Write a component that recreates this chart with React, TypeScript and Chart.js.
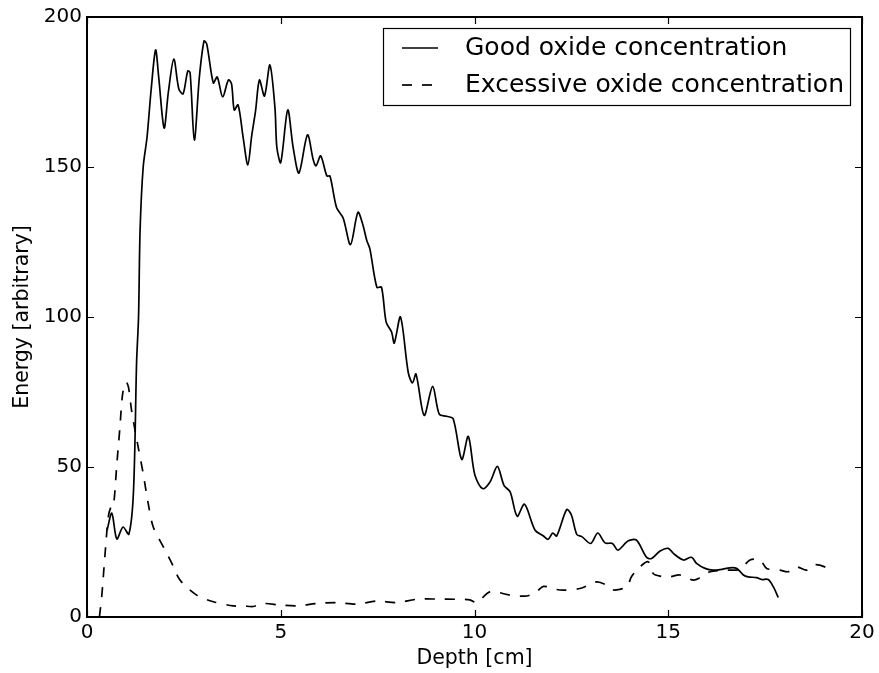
import React, { useEffect, useRef } from "react";
import { Chart, registerables } from "chart.js";

Chart.register(...registerables);

const goodX = [0.52, 0.64, 0.77, 0.93, 1.08, 1.2, 1.28, 1.33, 1.37, 1.45, 1.55, 1.65, 1.77, 1.85, 1.99, 2.1, 2.24, 2.37, 2.48, 2.6, 2.66, 2.77, 2.9, 3.02, 3.09, 3.26, 3.36, 3.5, 3.65, 3.73, 3.8, 3.9, 4.03, 4.15, 4.25, 4.35, 4.45, 4.58, 4.72, 4.85, 4.9, 5.0, 5.18, 5.32, 5.47, 5.69, 5.84, 5.91, 6.03, 6.19, 6.27, 6.44, 6.61, 6.8, 6.99, 7.11, 7.22, 7.3, 7.48, 7.6, 7.72, 7.86, 7.93, 8.09, 8.29, 8.4, 8.49, 8.7, 8.92, 9.09, 9.28, 9.45, 9.67, 9.84, 10.01, 10.21, 10.4, 10.59, 10.76, 10.92, 11.1, 11.29, 11.56, 11.78, 11.9, 12.02, 12.12, 12.38, 12.5, 12.64, 12.77, 13.0, 13.18, 13.37, 13.56, 13.7, 13.97, 14.18, 14.44, 14.57, 14.79, 15.0, 15.13, 15.39, 15.6, 15.73, 15.95, 16.16, 16.38, 16.59, 16.77, 16.94, 17.06, 17.28, 17.41, 17.58, 17.71, 17.84];
const goodY = [29, 34.6, 26, 30, 27.6, 42, 85, 100, 129, 150, 160, 175, 189, 180, 163, 175, 186, 176, 174.4, 182, 181.5, 159, 180, 192, 191, 178, 180, 173.4, 179, 177.7, 169, 170.7, 159.8, 150.7, 160.4, 168.7, 179, 173.7, 184, 169.8, 156.5, 151.5, 169, 156.5, 148, 160.7, 152.3, 150.4, 153.7, 147, 147, 136.5, 133, 124.1, 134.9, 131.2, 125.5, 122.7, 109.9, 109.9, 98.3, 95, 91.3, 100, 81.5, 78, 81, 67.2, 76.9, 67.6, 66.9, 66.1, 52.5, 60.2, 47.3, 42.8, 45, 50.2, 43.9, 41.7, 33.6, 37.6, 29, 27, 25.9, 28, 27, 35.8, 34, 27.5, 26.8, 24.5, 28, 24.7, 24.5, 22.3, 25.4, 25.6, 19.9, 19.5, 22, 22.9, 21.2, 19, 19.9, 17.9, 16.2, 15.6, 15.9, 16.4, 16.2, 14, 13.4, 13.1, 12.5, 12.5, 10.1, 6.5];

const excessX = [0.32, 0.38, 0.46, 0.55, 0.62, 0.68, 0.77, 0.85, 0.92, 1.01, 1.07, 1.15, 1.24, 1.32, 1.45, 1.58, 1.71, 1.97, 2.19, 2.4, 2.83, 3.26, 3.78, 4.03, 4.29, 4.55, 4.98, 5.41, 5.93, 6.44, 6.96, 7.48, 7.99, 8.51, 9.02, 9.54, 9.88, 10.06, 10.4, 10.92, 11.35, 11.6, 11.78, 12.2, 12.72, 13.15, 13.41, 13.58, 13.93, 14.05, 14.27, 14.48, 14.61, 14.79, 15.04, 15.3, 15.65, 15.82, 16.08, 16.51, 16.85, 17.11, 17.37, 17.54, 17.88, 18.1, 18.31, 18.57, 18.74, 18.91, 19.13];
const excessY = [0, 6.8, 20, 33.4, 36.7, 36.7, 51, 63.3, 74.4, 78.3, 76.6, 68.9, 62.2, 56.7, 47.8, 37.8, 30, 23.4, 17.9, 12.3, 7.3, 5.1, 3.7, 3.7, 3.5, 4.5, 4, 3.7, 4.5, 4.8, 4.3, 5.3, 4.8, 5.9, 6, 5.9, 5.7, 4.8, 8.4, 7.3, 7, 8.4, 10.2, 9, 9.5, 11.7, 10.6, 9, 10.1, 13.4, 16.7, 18.4, 14.5, 13.6, 13.4, 14, 12.3, 13.1, 15.1, 15.6, 15.9, 19, 19, 16.2, 15.6, 15.1, 16.7, 15.6, 17.3, 17.3, 16.2];

const seriesNames = ["Good oxide concentration", "Excessive oxide concentration"];
const xTicks = [0, 5, 10, 15, 20];
const yTicks = [0, 50, 100, 150, 200];
const xTitle = "Depth [cm]";
const yTitle = "Energy [arbitrary]";

const FONT = "'DejaVu Sans', sans-serif";
const DASH = [10, 10];

const framePlugin = {
  id: "frameTicks",
  afterDraw(chart: any) {
    const { ctx, chartArea } = chart;
    const { left, right, top, bottom } = chartArea;
    const xs = chart.scales.x;
    const ys = chart.scales.y;
    const tl = 7;
    ctx.save();
    ctx.strokeStyle = "#000";
    ctx.lineWidth = 1.2;
    ctx.beginPath();
    xTicks.forEach((v) => {
      const px = Math.round(xs.getPixelForValue(v)) + 0.5;
      ctx.moveTo(px, bottom);
      ctx.lineTo(px, bottom - tl);
      ctx.moveTo(px, top);
      ctx.lineTo(px, top + tl);
    });
    yTicks.forEach((v) => {
      const py = Math.round(ys.getPixelForValue(v)) + 0.5;
      ctx.moveTo(left, py);
      ctx.lineTo(left + tl, py);
      ctx.moveTo(right, py);
      ctx.lineTo(right - tl, py);
    });
    ctx.stroke();
    ctx.lineWidth = 2;
    ctx.strokeRect(left, top, right - left, bottom - top);

    // legend box
    const bx = 383.5, by = 28.5, bw = 467, bh = 77;
    ctx.fillStyle = "#fff";
    ctx.fillRect(bx, by, bw, bh);
    ctx.lineWidth = 1.2;
    ctx.strokeRect(bx, by, bw, bh);
    const rows = [48, 85];
    ctx.font = `25px ${FONT}`;
    ctx.fillStyle = "#000";
    ctx.textBaseline = "middle";
    ctx.textAlign = "left";
    rows.forEach((ry, i) => {
      ctx.lineWidth = 1.7;
      ctx.setLineDash(i === 1 ? DASH : []);
      ctx.beginPath();
      ctx.moveTo(402, ry);
      ctx.lineTo(438, ry);
      ctx.stroke();
      ctx.setLineDash([]);
      ctx.fillText(seriesNames[i], 465, ry);
    });
    ctx.restore();
  },
};

export default function App() {
  const ref = useRef<HTMLCanvasElement>(null);
  useEffect(() => {
    const chart = new Chart(ref.current!, {
      type: "line",
      data: {
        datasets: [
          {
            label: seriesNames[0],
            data: goodX.map((x, i) => ({ x, y: goodY[i] })),
            borderColor: "#000",
            borderWidth: 1.7,
            pointRadius: 0,
            tension: 0.3,
            fill: false,
          },
          {
            label: seriesNames[1],
            data: excessX.map((x, i) => ({ x, y: excessY[i] })),
            borderColor: "#000",
            borderWidth: 1.7,
            borderDash: DASH,
            pointRadius: 0,
            tension: 0.3,
            fill: false,
          },
        ],
      },
      options: {
        responsive: false,
        animation: false,
        layout: { padding: { top: 16, right: 17, left: 0, bottom: 0 } },
        plugins: { legend: { display: false }, tooltip: { enabled: false } },
        scales: {
          x: {
            type: "linear",
            min: 0,
            max: 20,
            afterBuildTicks: (s: any) => { s.ticks = xTicks.map((v) => ({ value: v })); },
            afterFit: (s: any) => { s.height = 56; },
            grid: { display: false, drawTicks: false },
            border: { display: false },
            ticks: { color: "#000", font: { family: FONT, size: 20 }, padding: 4, maxRotation: 0 },
            title: { display: true, text: xTitle, color: "#000", font: { family: FONT, size: 20.5 }, padding: { top: 0, bottom: 2 } },
          },
          y: {
            type: "linear",
            min: 0,
            max: 200,
            afterBuildTicks: (s: any) => { s.ticks = yTicks.map((v) => ({ value: v })); },
            afterFit: (s: any) => { s.width = 87; },
            grid: { display: false, drawTicks: false },
            border: { display: false },
            ticks: { color: "#000", font: { family: FONT, size: 20 }, padding: 5 },
            title: { display: true, text: yTitle, color: "#000", font: { family: FONT, size: 20.5 }, padding: { top: 10, bottom: 0 } },
          },
        },
      },
      plugins: [framePlugin],
    } as any);
    return () => chart.destroy();
  }, []);
  return (
    <div style={{ position: "absolute", left: 0, top: 0, width: 879, height: 673, background: "#fff" }}>
      <canvas ref={ref} width={879} height={673} />
    </div>
  );
}
